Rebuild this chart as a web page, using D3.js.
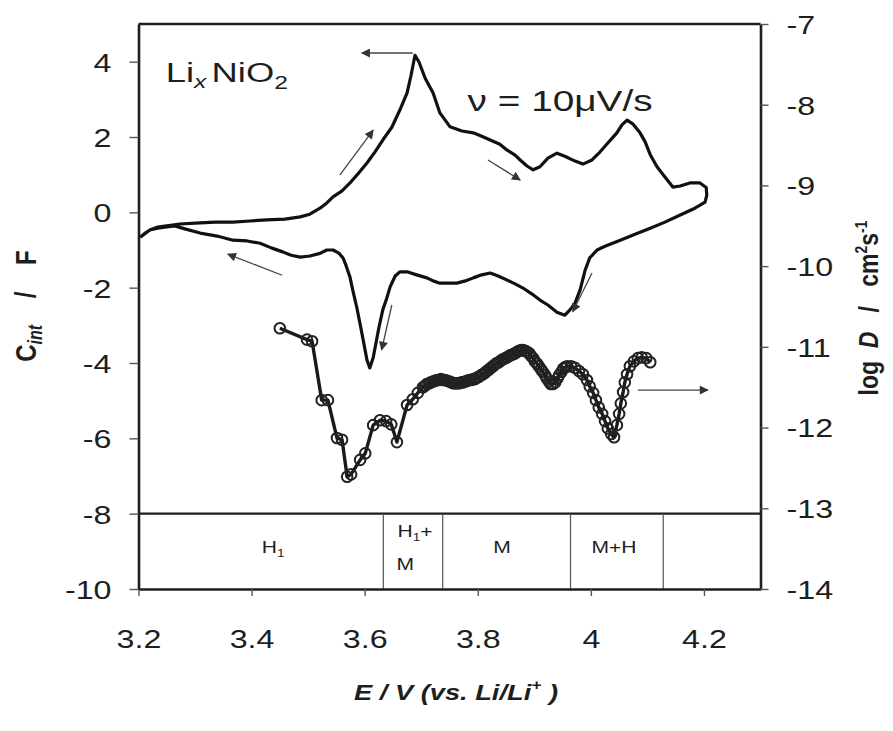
<!DOCTYPE html>
<html>
<head>
<meta charset="utf-8">
<script src="https://cdn.jsdelivr.net/npm/d3@7"></script>
<style>
  html, body { margin: 0; padding: 0; background: #fff; }
  svg { display: block; }
  text { font-family: "Liberation Sans", Arial, sans-serif; fill: #1e1e1e; }
</style>
</head>
<body>
<svg id="chart" width="893" height="731"></svg>
<script>
// Axis ticks
const xTicks = [3.2, 3.4, 3.6, 3.8, 4.0, 4.2];
const leftTicks = [-10, -8, -6, -4, -2, 0, 2, 4];
const rightTicks = [-14, -13, -12, -11, -10, -9, -8, -7];

// Cyclic voltammogram, charge sweep (E / V, C_int / F)
const cvForward = [
  [3.203,-0.66],[3.212,-0.55],[3.220,-0.47],[3.234,-0.39],[3.250,-0.36],[3.273,-0.31],
  [3.309,-0.28],[3.336,-0.26],[3.367,-0.26],[3.397,-0.23],[3.427,-0.20],[3.459,-0.18],
  [3.486,-0.12],[3.503,-0.05],[3.521,0.11],[3.533,0.25],[3.544,0.41],[3.560,0.57],
  [3.574,0.78],[3.588,1.02],[3.604,1.31],[3.618,1.60],[3.632,1.92],[3.648,2.26],
  [3.662,2.71],[3.675,3.17],[3.682,3.64],[3.689,4.17],[3.696,3.99],[3.707,3.56],
  [3.721,3.17],[3.733,2.64],[3.751,2.27],[3.772,2.16],[3.792,2.11],[3.807,2.02],
  [3.822,1.92],[3.839,1.81],[3.852,1.65],[3.866,1.52],[3.875,1.39],[3.887,1.23],
  [3.898,1.13],[3.910,1.21],[3.924,1.44],[3.940,1.57],[3.954,1.49],[3.972,1.36],
  [3.986,1.28],[4.002,1.39],[4.016,1.60],[4.030,1.84],[4.046,2.11],[4.055,2.32],
  [4.064,2.45],[4.074,2.35],[4.087,2.11],[4.096,1.87],[4.105,1.53],[4.117,1.21],
  [4.131,0.94],[4.145,0.67],[4.158,0.70],[4.175,0.78],[4.193,0.78],[4.204,0.66],
  [4.205,0.46]
];

// Cyclic voltammogram, discharge sweep
const cvReverse = [
  [4.202,0.27],[4.184,0.11],[4.158,-0.07],[4.131,-0.26],[4.105,-0.42],[4.078,-0.58],
  [4.052,-0.74],[4.025,-0.90],[4.011,-1.00],[3.998,-1.21],[3.990,-1.53],[3.981,-2.06],
  [3.972,-2.41],[3.963,-2.59],[3.954,-2.73],[3.940,-2.65],[3.924,-2.46],[3.910,-2.33],
  [3.896,-2.17],[3.880,-2.01],[3.866,-1.90],[3.852,-1.80],[3.836,-1.69],[3.822,-1.61],
  [3.807,-1.66],[3.792,-1.74],[3.778,-1.82],[3.763,-1.88],[3.748,-1.88],[3.733,-1.88],
  [3.721,-1.82],[3.710,-1.74],[3.692,-1.66],[3.675,-1.58],[3.662,-1.58],[3.654,-1.69],
  [3.645,-1.98],[3.638,-2.33],[3.632,-2.59],[3.625,-3.07],[3.620,-3.47],[3.615,-3.86],
  [3.609,-4.13],[3.604,-3.92],[3.599,-3.52],[3.593,-3.05],[3.586,-2.52],[3.579,-2.07],
  [3.574,-1.72],[3.567,-1.41],[3.562,-1.22],[3.555,-1.09],[3.544,-1.00],[3.533,-1.00],
  [3.521,-1.09],[3.503,-1.16],[3.486,-1.19],[3.470,-1.14],[3.455,-1.05],[3.436,-0.95],
  [3.415,-0.82],[3.392,-0.76],[3.367,-0.74],[3.339,-0.63],[3.309,-0.55],[3.282,-0.44],
  [3.264,-0.36],[3.250,-0.39],[3.234,-0.42],[3.220,-0.47],[3.203,-0.66]
];

// Chemical diffusion coefficient (E / V, log D / cm^2 s^-1)
const diffusionE = [
  3.450,3.498,3.507,3.524,3.535,3.551,3.560,3.569,3.576,3.592,3.601,3.615,3.627,3.638,
  3.647,3.657,3.675,3.685,3.694,
  3.703,3.707,3.710,3.714,3.717,3.721,3.724,3.728,3.731,3.735,3.738,3.742,3.746,3.750,
  3.753,3.757,3.760,3.764,3.767,3.771,3.774,3.778,3.781,3.785,3.788,3.792,3.795,3.799,
  3.802,3.806,3.809,3.813,3.816,3.820,3.823,3.827,3.830,3.834,3.837,3.841,3.845,3.849,
  3.852,3.856,3.859,3.863,3.866,3.870,3.873,3.877,3.880,3.884,3.887,3.891,3.894,3.898,
  3.901,3.905,3.908,3.912,3.915,3.919,3.922,3.926,3.929,3.933,3.937,3.941,3.944,3.948,
  3.951,3.955,3.958,3.965,3.972,3.979,3.986,3.993,
  3.998,4.004,4.009,4.014,4.020,4.025,4.030,4.036,4.041,4.046,4.050,4.053,4.057,4.060,
  4.064,4.069,4.076,4.083,4.090,4.098,4.105
];
const diffusionLogD = [
  -10.77,-10.91,-10.93,-11.66,-11.66,-12.13,-12.15,-12.61,-12.58,-12.40,-12.32,-11.97,-11.91,-11.92,
  -11.96,-12.18,-11.72,-11.65,-11.57,
  -11.50,-11.48,-11.46,-11.45,-11.44,-11.43,-11.42,-11.41,-11.41,-11.40,-11.41,-11.41,-11.42,-11.43,
  -11.44,-11.45,-11.45,-11.45,-11.45,-11.44,-11.44,-11.43,-11.42,-11.41,-11.41,-11.40,-11.40,-11.38,
  -11.37,-11.35,-11.34,-11.32,-11.30,-11.28,-11.26,-11.24,-11.22,-11.20,-11.19,-11.17,-11.15,-11.14,
  -11.13,-11.11,-11.10,-11.09,-11.08,-11.06,-11.05,-11.04,-11.04,-11.05,-11.06,-11.08,-11.11,-11.14,
  -11.18,-11.21,-11.24,-11.28,-11.31,-11.35,-11.39,-11.43,-11.46,-11.46,-11.44,-11.39,-11.35,-11.31,
  -11.27,-11.25,-11.24,-11.24,-11.26,-11.30,-11.34,-11.41,
  -11.49,-11.57,-11.66,-11.75,-11.83,-11.92,-12.01,-12.08,-12.12,-11.97,-11.83,-11.70,-11.56,-11.44,
  -11.34,-11.24,-11.18,-11.14,-11.13,-11.14,-11.19
];

// Phase regions along the potential axis
const phaseBounds = [3.2, 3.633, 3.738, 3.964, 4.128, 4.3];

// Sweep-direction arrows [E1, C1, E2, C2]
const arrows = [
  [3.685, 4.23, 3.595, 4.23],
  [3.556, 0.99, 3.615, 2.18],
  [3.818, 1.39, 3.875, 0.86],
  [3.454, -1.67, 3.358, -1.11],
  [3.648, -2.46, 3.630, -3.65],
  [4.002, -1.61, 3.968, -2.64],
  [4.083, -4.72, 4.207, -4.72]
];

const svg = d3.select("#chart");
const ink = "#1e1e1e";
const stretch = 1.24;   // horizontal widening of the lettering
const nb = "\u00A0";

const x = d3.scaleLinear().domain([3.2, 4.3]).range([138.5, 760.5]);
const yL = d3.scaleLinear().domain([-10, 5]).range([589, 24]);
const yR = d3.scaleLinear().domain([-14, -7]).range([589, 24]);

// place a text element at (px, py) with widened glyphs
function widen(sel, px, py, s = stretch) {
  sel.attr("x", 0).attr("y", 0).attr("transform", `translate(${px},${py}) scale(${s},1)`);
  return sel;
}

const defs = svg.append("defs");
defs.append("marker")
  .attr("id", "head").attr("viewBox", "0 0 10 10")
  .attr("refX", 9).attr("refY", 5)
  .attr("markerWidth", 12).attr("markerHeight", 9)
  .attr("markerUnits", "userSpaceOnUse")
  .attr("orient", "auto")
  .append("path").attr("d", "M0,0 L10,5 L0,10 Z").attr("fill", "#333");

// Phase table between -8 and -10
const table = svg.append("g");
table.append("line")
  .attr("x1", x(3.2)).attr("x2", x(4.3))
  .attr("y1", yL(-8)).attr("y2", yL(-8))
  .attr("stroke", ink).attr("stroke-width", 2.4);
phaseBounds.slice(1, -1).forEach(b => {
  table.append("line")
    .attr("x1", x(b)).attr("x2", x(b))
    .attr("y1", yL(-8)).attr("y2", yL(-10))
    .attr("stroke", "#555").attr("stroke-width", 1.2);
});
const labelFont = 17;
const rowMid = yL(-8.885) + 6;
const t1 = widen(table.append("text").attr("text-anchor", "middle").attr("font-size", labelFont), x(3.438), rowMid);
t1.append("tspan").text("H");
t1.append("tspan").attr("font-size", 11).attr("dy", 4).text("1");
const t2 = widen(table.append("text").attr("text-anchor", "middle").attr("font-size", labelFont), x(3.689), yL(-8.46) + 6);
t2.append("tspan").text("H");
t2.append("tspan").attr("font-size", 11).attr("dy", 4).text("1");
t2.append("tspan").attr("dy", -4).text("+");
widen(table.append("text").attr("text-anchor", "middle").attr("font-size", labelFont).text("M"), x(3.672), yL(-9.34) + 6);
widen(table.append("text").attr("text-anchor", "middle").attr("font-size", labelFont).text("M"), x(3.843), rowMid);
widen(table.append("text").attr("text-anchor", "middle").attr("font-size", labelFont).text("M+H"), x(4.041), rowMid);

// Axes
const tickFont = 26;
const fmt = d => String(d);
const gx = svg.append("g").attr("transform", `translate(0,${yL(-10)})`)
  .call(d3.axisBottom(x).tickValues(xTicks).tickSize(7).tickSizeOuter(0).tickFormat(fmt));
const gl = svg.append("g").attr("transform", `translate(${x(3.2)},0)`)
  .call(d3.axisLeft(yL).tickValues(leftTicks).tickSize(9).tickSizeOuter(0).tickFormat(fmt));
const gr = svg.append("g").attr("transform", `translate(${x(4.3)},0)`)
  .call(d3.axisRight(yR).tickValues(rightTicks).tickSize(8).tickSizeOuter(0).tickFormat(fmt));
[gx, gl, gr].forEach(g => {
  g.selectAll("text").attr("font-size", tickFont)
    .attr("font-family", "Liberation Sans, Arial, sans-serif").attr("fill", ink);
  g.selectAll(".tick line").attr("stroke", "#555").attr("stroke-width", 1.4);
  g.select(".domain").attr("stroke", ink).attr("stroke-width", 2.6);
});
gx.selectAll("text").attr("dy", "0.36em").call(s => widen(s, 0, 50));
gl.selectAll("text").attr("dy", "0.36em").call(s => widen(s, -27, 0));
gr.selectAll("text").attr("dy", "0.36em").call(s => widen(s, 26, 0));

// Top frame line
svg.append("line")
  .attr("x1", x(3.2)).attr("x2", x(4.3))
  .attr("y1", yL(5)).attr("y2", yL(5))
  .attr("stroke", ink).attr("stroke-width", 2.4);

// CV loop
const cvLine = d3.line().x(d => x(d[0])).y(d => yL(d[1]));
svg.append("path")
  .datum(cvForward.concat(cvReverse))
  .attr("d", cvLine)
  .attr("fill", "none").attr("stroke", "#111").attr("stroke-width", 3.2)
  .attr("stroke-linejoin", "round");

// Diffusion coefficient curve with markers
const diffData = diffusionE.map((e, i) => [e, diffusionLogD[i]]);
const dLine = d3.line().x(d => x(d[0])).y(d => yR(d[1]));
svg.append("path").datum(diffData).attr("d", dLine)
  .attr("fill", "none").attr("stroke", "#1a1a1a").attr("stroke-width", 3.4)
  .attr("stroke-linejoin", "round");
svg.append("g").selectAll("circle").data(diffData).join("circle")
  .attr("cx", d => x(d[0])).attr("cy", d => yR(d[1])).attr("r", 5.3)
  .attr("fill", "none").attr("stroke", "#222").attr("stroke-width", 2);

// Arrows
svg.append("g").selectAll("line").data(arrows).join("line")
  .attr("x1", d => x(d[0])).attr("y1", d => yL(d[1]))
  .attr("x2", d => x(d[2])).attr("y2", d => yL(d[3]))
  .attr("stroke", "#444").attr("stroke-width", 1.3)
  .attr("marker-end", "url(#head)");

// Annotations
const comp = widen(svg.append("text").attr("font-size", 28), x(3.248), yL(3.47), 1.3);
comp.append("tspan").text("Li");
comp.append("tspan").attr("font-style", "italic").attr("font-size", 19).attr("dy", 6).text("x");
comp.append("tspan").attr("dy", -6).attr("dx", 4).text("NiO");
comp.append("tspan").attr("font-size", 19).attr("dy", 7).text("2");

svg.append("text").attr("x", x(3.782)).attr("y", yL(2.68)).attr("font-size", 29)
  .attr("textLength", 185).attr("lengthAdjust", "spacingAndGlyphs")
  .text("\u03BD = 10\u03BCV/s");

// Axis titles (glyph height widened to follow the lettering)
const lt = svg.append("text")
  .attr("transform", `translate(36,306) rotate(-90) scale(1,${stretch})`)
  .attr("text-anchor", "middle").attr("font-size", 24).attr("font-weight", "bold");
lt.append("tspan").text("C");
lt.append("tspan").attr("font-size", 16).attr("font-style", "italic").attr("dy", 5).text("int");
lt.append("tspan").attr("dy", -5).text(nb.repeat(4) + "/" + nb.repeat(4) + "F");

const rt = svg.append("text")
  .attr("transform", `translate(878,308) rotate(-90) scale(1,${stretch})`)
  .attr("text-anchor", "middle").attr("font-size", 23).attr("font-weight", "bold");
rt.append("tspan").text("log" + nb.repeat(2));
rt.append("tspan").attr("font-style", "italic").text("D");
rt.append("tspan").text(nb.repeat(3) + "/" + nb.repeat(3) + "cm");
rt.append("tspan").attr("font-size", 14).attr("dy", -9).text("2");
rt.append("tspan").attr("dy", 9).text("s");
rt.append("tspan").attr("font-size", 14).attr("dy", -9).text("-1");

const xt = widen(svg.append("text")
  .attr("text-anchor", "middle").attr("font-size", 22)
  .attr("font-weight", "bold").attr("font-style", "italic"), 456, 700);
xt.append("tspan").text("E / V (vs. Li/Li");
xt.append("tspan").attr("font-size", 14).attr("dy", -10).text("+");
xt.append("tspan").attr("dy", 10).text(" )");
</script>
</body>
</html>
